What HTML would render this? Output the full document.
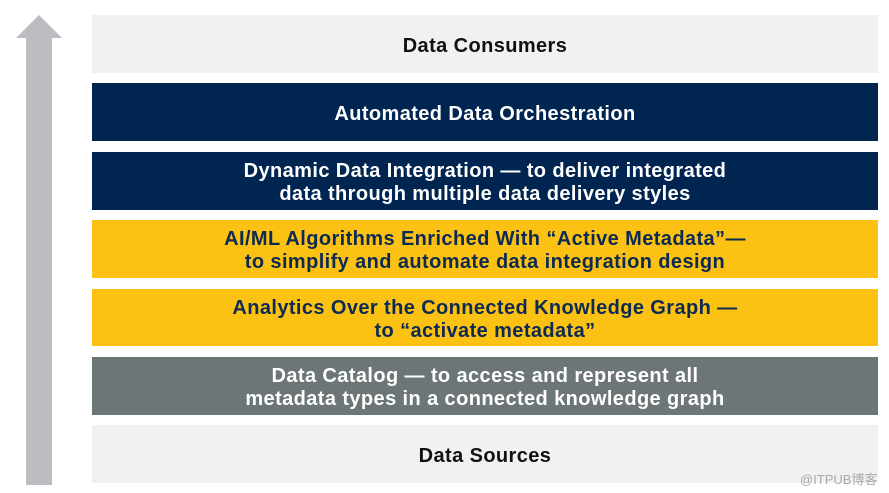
<!DOCTYPE html>
<html><head><style>
body{margin:0;width:889px;height:493px;background:#fff;position:relative;overflow:hidden;font-family:"Liberation Sans","Noto Sans CJK SC",sans-serif}
.b{position:absolute;left:92px;width:786px;display:flex;align-items:center;justify-content:center;text-align:center;font-weight:bold;font-size:20px;line-height:23px;letter-spacing:0.4px;padding-top:4px;box-sizing:border-box}
.l{background:#f0f1f1;color:#111}
.n{background:#002551;color:#fff}
.y{background:#fcc213;color:#0d2a52}
.g{background:#6d7677;color:#fff}
</style></head><body>
<svg style="position:absolute;left:0;top:0" width="80" height="493"><polygon points="39,15 62,38 52,38 52,485 26,485 26,38 16,38" fill="#bcbdc0"/></svg>
<div class="b l" style="top:15px;height:58px">Data Consumers</div>
<div class="b n" style="top:83px;height:58px">Automated Data Orchestration</div>
<div class="b n" style="top:152px;height:58px">Dynamic Data Integration — to deliver integrated<br>data through multiple data delivery styles</div>
<div class="b y" style="top:220px;height:58px">AI/ML Algorithms Enriched With “Active Metadata”—<br>to simplify and automate data integration design</div>
<div class="b y" style="top:289px;height:57px">Analytics Over the Connected Knowledge Graph —<br>to “activate metadata”</div>
<div class="b g" style="top:357px;height:58px">Data Catalog — to access and represent all<br>metadata types in a connected knowledge graph</div>
<div class="b l" style="top:425px;height:58px">Data Sources</div>
<div style="position:absolute;left:800px;top:469px;font-size:13px;color:#aaa">@ITPUB博客</div>
</body></html>
